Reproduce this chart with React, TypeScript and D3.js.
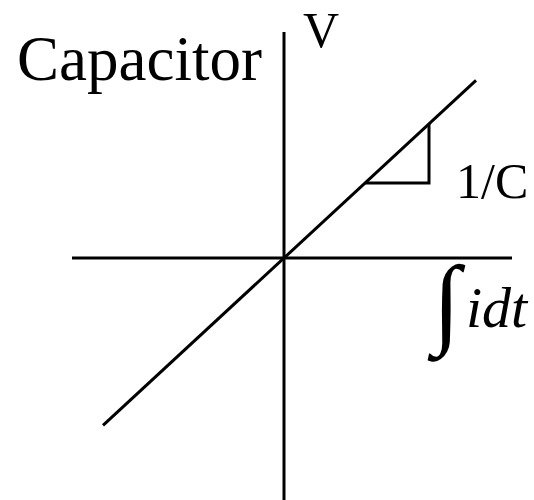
import React, { useEffect, useRef } from 'react';
import * as d3 from 'd3';

// diagram in abstract units, origin at the crossing of the axes
const xAxisExtent = [-10.6, 11.4];
const yAxisExtent = [-12.1, 11.3];
const slope = 0.925; // V = (1/C) * ∫ i dt
const lineXs = [-9.05, 9.6];
const triangleRun = [4.05, 7.25];

const W = 534;
const H = 500;

const App = () => {
  const ref = useRef<SVGSVGElement>(null);

  useEffect(() => {
    document.body.style.margin = '0';
    const svg = d3.select(ref.current);
    svg.selectAll('*').remove();

    const x = d3.scaleLinear().domain([-11, 11]).range([64, 504]);
    const y = d3.scaleLinear().domain([-12, 12]).range([498, 18]);
    const line = d3
      .line<[number, number]>()
      .x((d) => x(d[0]))
      .y((d) => y(d[1]));

    const g = svg.append('g').attr('fill', 'none').attr('stroke', '#000').attr('stroke-width', 3);

    // axes
    g.append('path').attr('d', line(xAxisExtent.map((v) => [v, 0] as [number, number])));
    g.append('path').attr('d', line(yAxisExtent.map((v) => [0, v] as [number, number])));

    // characteristic
    g.append('path').attr('d', line(lineXs.map((v) => [v, v * slope] as [number, number])));

    // slope triangle
    const [a, b] = triangleRun;
    g.append('path').attr(
      'd',
      line([
        [a, a * slope],
        [b, a * slope],
        [b, b * slope],
      ])
    );

    const txt = svg
      .append('g')
      .style('font-family', "'Liberation Serif', 'Times New Roman', Times, serif")
      .attr('fill', '#000');

    txt.append('text').attr('x', 17).attr('y', 80).style('font-size', '63px').text('Capacitor');
    txt.append('text').attr('x', 303).attr('y', 47).style('font-size', '50px').text('V');
    txt.append('text').attr('x', 456).attr('y', 198).style('font-size', '50px').text('1/C');

    txt
      .append('text')
      .attr('x', 433)
      .attr('y', 335)
      .style('font-size', '100px')
      .text('∫');
    txt
      .append('text')
      .attr('x', 466)
      .attr('y', 327)
      .style('font-size', '58px')
      .style('font-style', 'italic')
      .text('idt');
  }, []);

  return (
    <svg
      ref={ref}
      width={W}
      height={H}
      style={{ display: 'block', position: 'absolute', left: 0, top: 0, background: '#fff' }}
    />
  );
};

export default App;
